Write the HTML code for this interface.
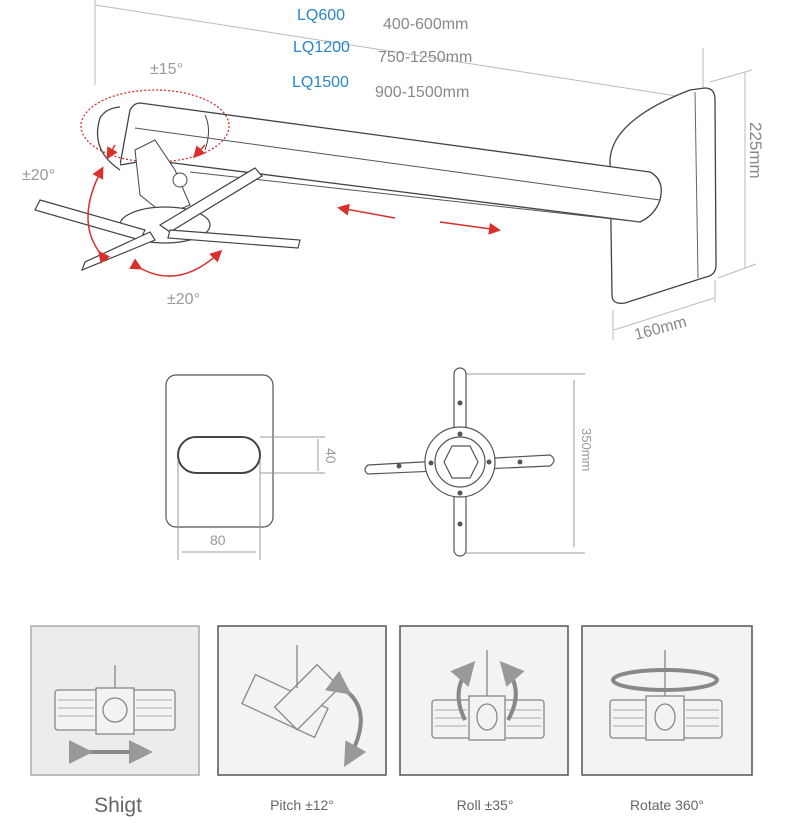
<!DOCTYPE html>
<html><head><meta charset="utf-8"><style>
html,body{margin:0;padding:0;background:#fff;}
svg{display:block;font-family:"Liberation Sans",sans-serif;}
</style></head><body>
<svg width="790" height="830" viewBox="0 0 790 830" xmlns="http://www.w3.org/2000/svg">
<defs>
<marker id="ra" markerWidth="8" markerHeight="8" refX="6" refY="4" orient="auto"><path d="M0,0 L8,4 L0,8 Z" fill="#d9302c"/></marker>
<marker id="ga" markerWidth="6" markerHeight="6" refX="4" refY="3" orient="auto"><path d="M0,0 L6,3 L0,6 Z" fill="#999"/></marker>
</defs>
<g stroke="#bbb" stroke-width="1" fill="none">
<line x1="95" y1="0" x2="95" y2="85"/>
<line x1="95" y1="5" x2="702" y2="100"/>
<line x1="703" y1="48" x2="703" y2="125"/>
<line x1="710" y1="82" x2="752" y2="70"/>
<line x1="745" y1="72" x2="745" y2="268"/>
<line x1="718" y1="278" x2="756" y2="264"/>
<line x1="613" y1="310" x2="613" y2="340"/>
<line x1="614" y1="330" x2="714" y2="298"/>
<line x1="715" y1="280" x2="715" y2="302"/>
</g>
<g font-size="16">
<text x="297" y="20" fill="#2a86c8">LQ600</text><text x="383" y="29" fill="#888">400-600mm</text>
<text x="293" y="52" fill="#2a86c8">LQ1200</text><text x="378" y="62" fill="#888">750-1250mm</text>
<text x="292" y="87" fill="#2a86c8">LQ1500</text><text x="375" y="97" fill="#888">900-1500mm</text>
<text x="150" y="74" fill="#999">±15°</text>
<text x="22" y="180" fill="#999">±20°</text>
<text x="167" y="304" fill="#999">±20°</text>
<text x="636" y="340" fill="#888" transform="rotate(-15 636 340)">160mm</text>
<text x="0" y="0" fill="#888" font-size="17" transform="translate(750,122) rotate(90)">225mm</text>
</g>
<path d="M705,88 Q715,88 715,100 L716,265 Q716,275 706,277 L625,303 Q612,305 612,295 L610,160 Q612,120 690,90 Z" fill="#fff" stroke="#444" stroke-width="1.3"/>
<path d="M695,92 L698,278" stroke="#666" fill="none"/>
<path d="M120,165 L130,110 Q134,103 140,103 L650,172 Q665,180 660,200 Q655,215 640,222 L150,160 Z" fill="#fff" stroke="#444" stroke-width="1.3"/>
<path d="M135,128 L660,200" stroke="#555" fill="none"/>
<path d="M120,170 Q90,150 100,118 Q106,108 120,107" fill="#fff" stroke="#444" stroke-width="1.3"/>
<path d="M190,172 L640,222" stroke="#555" fill="none"/>
<path d="M205,115 Q212,130 205,150" stroke="#444" fill="none"/>
<ellipse cx="155" cy="126" rx="74" ry="36" fill="none" stroke="#d9302c" stroke-width="1.3" stroke-dasharray="2,2"/>
<path d="M135,150 L155,140 L175,170 L190,205 L165,215 L140,195 Z" fill="#fff" stroke="#444"/>
<circle cx="180" cy="180" r="7" fill="#fff" stroke="#444"/>
<g stroke="#444" stroke-width="1.2" fill="#fff">
<ellipse cx="165" cy="225" rx="45" ry="18"/>
<path d="M40,200 L145,230 L140,240 L35,210 Z"/>
<path d="M160,225 L255,168 L262,176 L170,232 Z"/>
<path d="M170,230 L300,240 L298,248 L168,238 Z"/>
<path d="M150,232 L85,262 L82,270 L155,240 Z"/>
</g>
<g stroke="#d9302c" stroke-width="1.5" fill="none">
<path d="M100,253 Q75,220 102,169" marker-end="url(#ra)" marker-start="url(#ra)"/>
<path d="M140,268 Q180,290 220,252" marker-end="url(#ra)" marker-start="url(#ra)"/>
<path d="M395,218 L340,208" marker-end="url(#ra)"/>
<path d="M440,222 L498,230" marker-end="url(#ra)"/>
<path d="M115,145 L108,157" marker-end="url(#ra)"/>
<path d="M205,145 L195,156" marker-end="url(#ra)"/>
</g>
<rect x="166" y="375" width="107" height="152" rx="10" fill="#fff" stroke="#555" stroke-width="1.2"/>
<rect x="178" y="437" width="82" height="36" rx="18" fill="#fff" stroke="#444" stroke-width="2"/>
<g stroke="#999" fill="none" stroke-width="1">
<line x1="260" y1="437" x2="325" y2="437"/><line x1="260" y1="473" x2="325" y2="473"/>
<line x1="318" y1="439" x2="318" y2="471"/>
<line x1="178" y1="460" x2="178" y2="560"/><line x1="260" y1="460" x2="260" y2="560"/>
<line x1="182" y1="552" x2="256" y2="552"/>
<line x1="465" y1="374" x2="585" y2="374"/><line x1="465" y1="553" x2="585" y2="553"/>
<line x1="574" y1="380" x2="574" y2="547"/>
</g>
<text x="210" y="545" font-size="14" fill="#999">80</text>
<text x="0" y="0" font-size="14" fill="#999" transform="translate(326,448) rotate(90)">40</text>
<text x="0" y="0" font-size="13" fill="#999" transform="translate(582,428) rotate(90)">350mm</text>
<g stroke="#555" stroke-width="1.2" fill="#fff">
<rect x="454" y="368" width="12" height="188" rx="6"/>
<path d="M368,465 L550,455 Q558,460 550,466 L368,474 Q362,470 368,465 Z"/>
<circle cx="460" cy="462" r="35"/>
<circle cx="460" cy="462" r="25"/>
<path d="M452,446 L470,446 L478,462 L470,478 L452,478 L444,462 Z"/>
</g>
<g fill="#555">
<circle cx="460" cy="403" r="2.5"/><circle cx="460" cy="434" r="2.5"/><circle cx="460" cy="493" r="2.5"/><circle cx="460" cy="524" r="2.5"/>
<circle cx="399" cy="466" r="2.5"/><circle cx="431" cy="463" r="2.5"/><circle cx="489" cy="462" r="2.5"/><circle cx="520" cy="462" r="2.5"/>
</g>
<g fill="#f3f3f3" stroke="#888" stroke-width="1.5">
<rect x="31" y="626" width="168" height="149" fill="#ececec" stroke="#aaa"/>
<rect x="218" y="626" width="168" height="149" stroke="#555"/>
<rect x="400" y="626" width="168" height="149" stroke="#555"/>
<rect x="582" y="626" width="170" height="149" stroke="#555"/>
</g>
<g stroke="#888" stroke-width="1.3" fill="#f3f3f3">
<rect x="55" y="690" width="120" height="40" rx="3"/>
<rect x="96" y="688" width="38" height="46"/><circle cx="115" cy="710" r="12"/>
<line x1="115" y1="665" x2="115" y2="688"/>
<rect x="432" y="700" width="112" height="38" rx="3"/>
<rect x="469" y="696" width="36" height="44"/><ellipse cx="487" cy="717" rx="10" ry="13"/>
<line x1="487" y1="650" x2="487" y2="696"/>
<rect x="610" y="700" width="112" height="38" rx="3"/>
<rect x="646" y="696" width="38" height="44"/><ellipse cx="665" cy="717" rx="10" ry="13"/>
<line x1="665" y1="650" x2="665" y2="696"/>
<rect x="245" y="690" width="80" height="32" transform="rotate(25 285 706)"/>
<rect x="280" y="680" width="60" height="32" transform="rotate(-45 310 700)"/>
<line x1="297" y1="645" x2="297" y2="688"/>
</g>
<g stroke="#aaa" stroke-width="1">
<line x1="58" y1="700" x2="94" y2="700"/><line x1="58" y1="708" x2="94" y2="708"/><line x1="58" y1="716" x2="94" y2="716"/>
<line x1="136" y1="700" x2="172" y2="700"/><line x1="136" y1="708" x2="172" y2="708"/><line x1="136" y1="716" x2="172" y2="716"/>
<line x1="435" y1="710" x2="467" y2="710"/><line x1="435" y1="718" x2="467" y2="718"/><line x1="435" y1="726" x2="467" y2="726"/>
<line x1="507" y1="710" x2="541" y2="710"/><line x1="507" y1="718" x2="541" y2="718"/><line x1="507" y1="726" x2="541" y2="726"/>
<line x1="613" y1="710" x2="644" y2="710"/><line x1="613" y1="718" x2="644" y2="718"/><line x1="613" y1="726" x2="644" y2="726"/>
<line x1="686" y1="710" x2="719" y2="710"/><line x1="686" y1="718" x2="719" y2="718"/><line x1="686" y1="726" x2="719" y2="726"/>
</g>
<g stroke="#888" stroke-width="4" fill="none">
<path d="M85,752 L145,752" marker-end="url(#ga)" marker-start="url(#ga)"/>
<path d="M345,690 Q375,712 348,760" marker-end="url(#ga)" marker-start="url(#ga)"/>
<path d="M465,720 Q450,690 470,667" marker-end="url(#ga)"/>
<path d="M508,720 Q525,690 505,667" marker-end="url(#ga)"/>
<ellipse cx="665" cy="680" rx="52" ry="10"/>
</g>
<g fill="#666" text-anchor="middle">
<text x="118" y="812" font-size="21">Shigt</text>
<text x="302" y="810" font-size="14">Pitch ±12°</text>
<text x="485" y="810" font-size="14">Roll ±35°</text>
<text x="667" y="810" font-size="14">Rotate 360°</text>
</g>
</svg>
</body></html>
